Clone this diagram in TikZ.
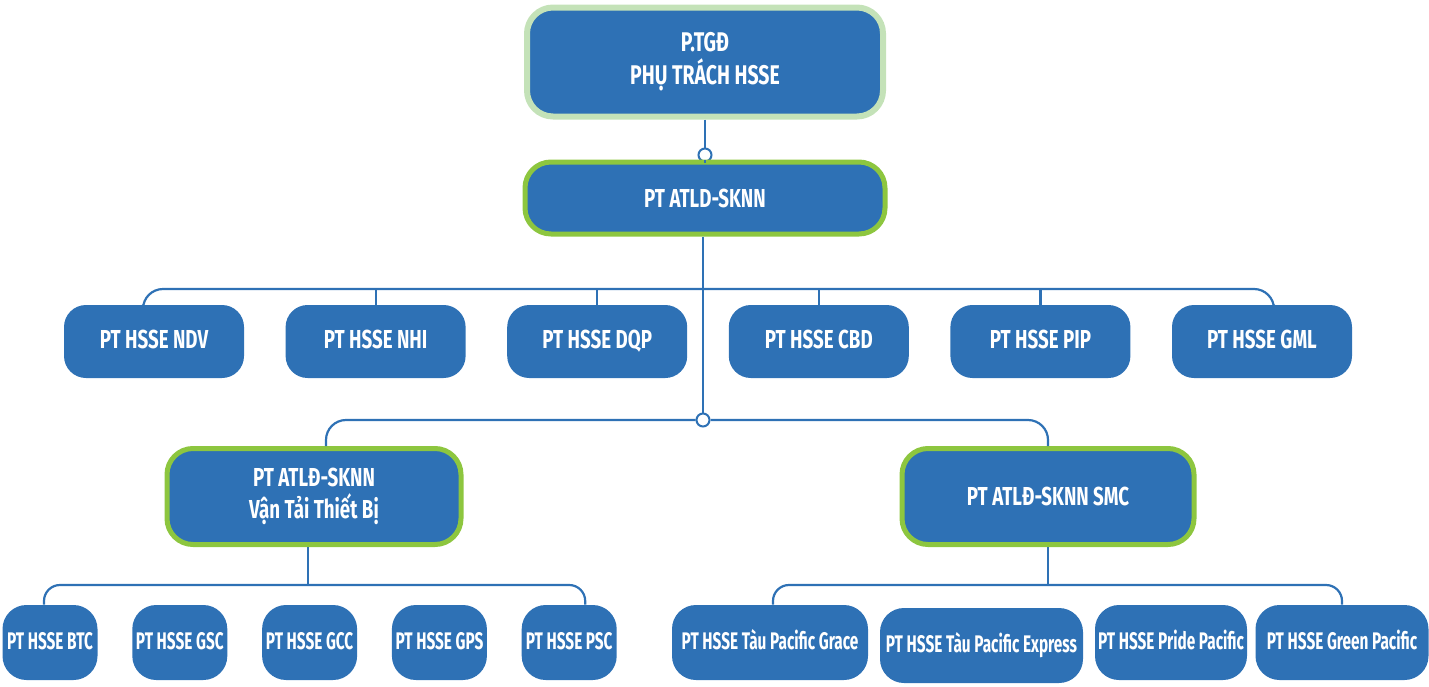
\documentclass[tikz,border=0pt]{standalone}
\usepackage{fontspec}
\setmainfont{Fira Sans}[FakeStretch=0.72]
\newfontfamily\narrowfont{Fira Sans}[FakeStretch=0.64]
\usetikzlibrary{positioning}
\definecolor{boxblue}{RGB}{46,113,181}
\definecolor{rimgreen}{RGB}{141,198,63}
\definecolor{palegreen}{RGB}{196,226,184}
\tikzset{
  unit/.style={fill=boxblue,text=white,font=\bfseries\fontsize{13}{16}\selectfont,
    rounded corners=11pt,minimum width=90pt,minimum height=36.5pt,inner sep=0pt,align=center},
  flat/.style={text height=9pt,text depth=2pt},
  small/.style={unit,flat,minimum width=47.5pt,minimum height=37.5pt,rounded corners=12pt,
    font=\narrowfont\bfseries\fontsize{12}{14}\selectfont},
  head/.style={unit,draw=rimgreen,line width=2.5pt,rounded corners=13pt},
  link/.style={draw=boxblue,line width=1.1pt},
  joint/.style={circle,draw=boxblue,fill=white,line width=1pt,inner sep=0pt,minimum size=6.5pt}
}

\begin{document}
\begin{tikzpicture}[x=0.5pt,y=-0.5pt]
  \useasboundingbox (0,0) rectangle (1429,686);
  % top of the tree
  \node[head,draw=palegreen,line width=3pt,minimum width=178pt,minimum height=54.5pt,
    font=\bfseries\fontsize{13.5}{16.5}\selectfont] (pgd) at (705,62) {P.TGĐ\\PHỤ TRÁCH HSSE};
  \node[joint] (j1) at (705,155) {};
  \node[head,minimum width=180pt,minimum height=36pt] (atld) at (705,198) {PT ATLD-SKNN};
  % units
  \node[unit,flat] (ndv) at (154,341.5) {PT HSSE NDV};
  \node[unit,flat,right=20.4pt of ndv] (nhi) {PT HSSE NHI};
  \node[unit,flat,right=20.4pt of nhi] (dqp) {PT HSSE DQP};
  \node[unit,flat,right=20.4pt of dqp] (cbd) {PT HSSE CBD};
  \node[unit,flat,right=20.4pt of cbd] (pip) {PT HSSE PIP};
  \node[unit,flat,right=20.4pt of pip] (gml) {PT HSSE GML};
  \node[joint] (j2) at (703,420) {};
  \node[head,minimum width=147pt,minimum height=48pt] (vttb) at (314,496.5) {PT ATLĐ-SKNN\\Vận Tải Thiết Bị};
  \node[head,minimum width=146pt,minimum height=48pt] (smc) at (1048,496.5) {PT ATLĐ-SKNN SMC};
  % bottom rows
  \node[small] (btc) at (50,642.5) {PT HSSE BTC};
  \node[small,right=17pt of btc] (gsc) {PT HSSE GSC};
  \node[small,right=17pt of gsc] (gcc) {PT HSSE GCC};
  \node[small,right=17pt of gcc] (gps) {PT HSSE GPS};
  \node[small,right=17pt of gps] (psc) {PT HSSE PSC};
  \node[small,minimum width=98pt] (grace) at (770,642.5) {PT HSSE Tàu Pacific Grace};
  \node[small,minimum width=101.5pt] (express) at (981.5,645.5) {PT HSSE Tàu Pacific Express};
  \node[small,minimum width=76pt] (pride) at (1171,642.5) {PT HSSE Pride Pacific};
  \node[small,minimum width=86.5pt] (green) at (1342,642.5) {PT HSSE Green Pacific};
  % links
  \draw[link] (pgd) -- (j1) -- (atld);
  \draw[link] (atld.south -| j2) -- (j2);
  \coordinate (busm) at (705,289);
  \draw[link,rounded corners=10pt] ([xshift=-5.5pt]ndv.north) |- (busm) -| ([xshift=6pt]gml.north);
  \foreach \u in {nhi,dqp,cbd,pip}
    \draw[link] (\u.north) -- (\u.north |- busm);
  \draw[link,rounded corners=10pt] ([xshift=6pt]vttb.north) |- (j2.west);
  \draw[link,rounded corners=10pt] (j2.east) -| (smc.north);
  \draw[link] ([xshift=-3pt]vttb.south) -- ++(0,38) coordinate (busl);
  \draw[link,rounded corners=8pt] ([xshift=-3pt]btc.north) |- (busl) -| ([xshift=8pt]psc.north);
  \draw[link] (smc.south) -- ++(0,38) coordinate (busr);
  \draw[link,rounded corners=8pt] ([xshift=1.5pt]grace.north) |- (busr) -| (green.north);
\end{tikzpicture}
\end{document}
